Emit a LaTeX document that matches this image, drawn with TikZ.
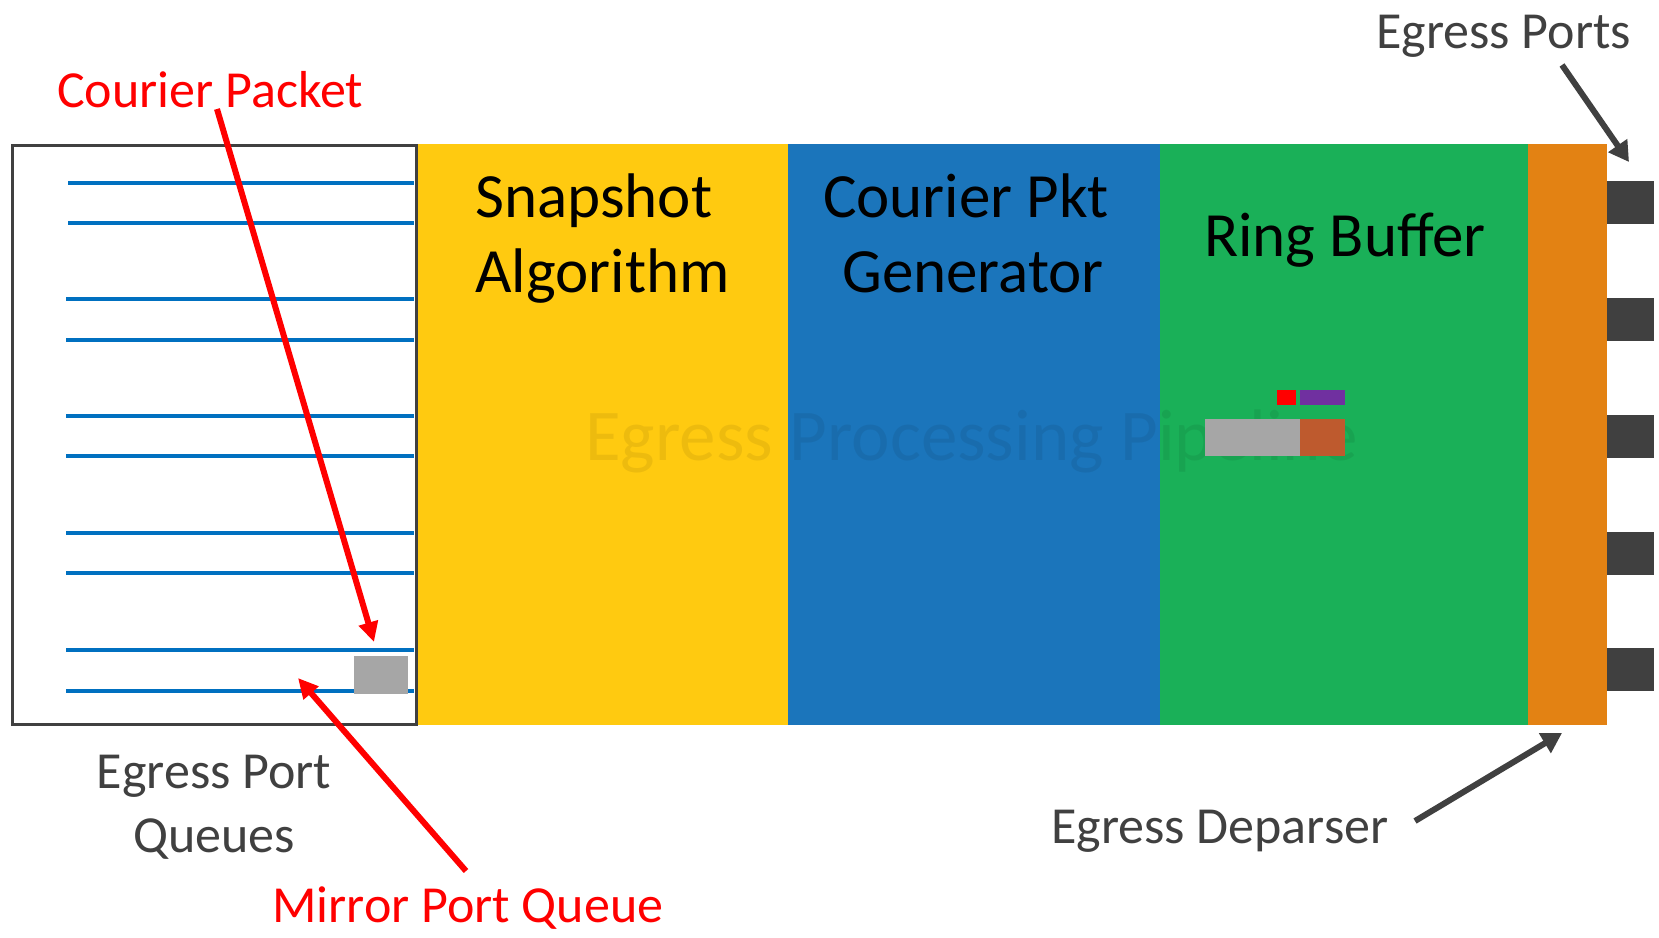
\documentclass[tikz,border=0pt]{standalone}
\usepackage{fontspec}
\setmainfont{Carlito}
\usetikzlibrary{arrows.meta}
\definecolor{cyellow}{HTML}{FFCA10}
\definecolor{cblue}{HTML}{1B75BB}
\definecolor{cgreen}{HTML}{1AB058}
\definecolor{corange}{HTML}{E38213}
\definecolor{cdark}{HTML}{404040}
\definecolor{cline}{HTML}{0070C0}
\definecolor{cgray}{HTML}{A6A6A6}
\definecolor{cpurple}{HTML}{7030A0}
\definecolor{cbrown}{HTML}{BE5A2E}
\definecolor{cred}{HTML}{FF0000}
\tikzset{
  lbl/.style={inner sep=0pt, anchor=base west},
  big/.style={font=\fontsize{63}{75}\selectfont, text=black},
  mid/.style={font=\fontsize{52}{64}\selectfont},
  qline/.style={draw=cline, line width=3.3pt},
  redarrow/.style={draw=cred, line width=6pt, -{Triangle[length=20pt,width=19pt]}},
  darkarrow/.style={draw=cdark, line width=6pt, -{Triangle[length=20pt,width=22pt]}},
  port/.style={fill=cdark, draw=none}
}
\begin{document}
\begin{tikzpicture}[x=1pt,y=-1pt]
\useasboundingbox (0,0) rectangle (1659,937);
\fill[white] (0,0) rectangle (1659,937);
% pipeline stages
\fill[cyellow] (418,144) rectangle (788,725);
\fill[cblue] (788,144) rectangle (1160,725);
\fill[cgreen] (1160,144) rectangle (1528,725);
\fill[corange] (1528,144) rectangle (1607,725);
% watermark
\node[lbl, font=\fontsize{73}{85}\selectfont, text=black, text opacity=0.07] (wm) at (585,460) {Egress Processing Pipeline};
% ring buffer items
\fill[cred] (1277,390) rectangle (1296,405);
\fill[cpurple] (1300,390) rectangle (1345,405);
\fill[cgray] (1205,419) rectangle (1300,456);
\fill[cbrown] (1300,419) rectangle (1345,456);
% ports
\foreach \y in {181,298,415,532,648} {
  \fill[cdark] (1607,\y) rectangle (1654,\y+43);
}
% queues
\foreach \y/\xs in {183/68,223/68,299/66,340/66,416/66,456/66,533/66,573/66,650/66,691/66} {
  \draw[qline] (\xs,\y) -- (414,\y);
}
\fill[cgray] (354,656) rectangle (408,694);
\draw[cdark, line width=3pt] (12.7,145) rectangle (416,724);
% labels
\node[lbl, big] (snap1) at (475,217) {Snapshot};
\node[lbl, big] (snap2) at (475,292) {Algorithm};
\node[inner sep=0pt, anchor=base, big] (gen1) at (966,217) {Courier Pkt};
\node[inner sep=0pt, anchor=base, big] (gen2) at (973,292) {Generator};
\node[lbl, big] (ring) at (1204,256) {Ring Buffer};
\node[lbl, mid, text=cdark] (ports) at (1376,48) {Egress Ports};
\node[lbl, mid, text=cdark] (dep) at (1051,843) {Egress Deparser};
\node[inner sep=0pt, anchor=base, mid, text=cdark] (q1) at (214,788) {Egress Port};
\node[inner sep=0pt, anchor=base, mid, text=cdark] (q2) at (214,852) {Queues};
\node[lbl, mid, text=cred] (cp) at (57,107) {Courier Packet};
\node[lbl, mid, text=cred] (mpq) at (272,922) {Mirror Port Queue};
% arrows
\coordinate (cpS) at (217,109);
\coordinate (cpE) at (374,642);
\coordinate (mpS) at (466,871);
\coordinate (mpE) at (298,678);
\coordinate (epS) at (1562,65);
\coordinate (epE) at (1629,162);
\coordinate (edS) at (1415,821);
\coordinate (edE) at (1562,733);
\draw[redarrow] (cpS) -- (cpE);
\draw[redarrow] (mpS) -- (mpE);
\draw[darkarrow] (epS) -- (epE);
\draw[darkarrow] (edS) -- (edE);
\end{tikzpicture}
\end{document}
